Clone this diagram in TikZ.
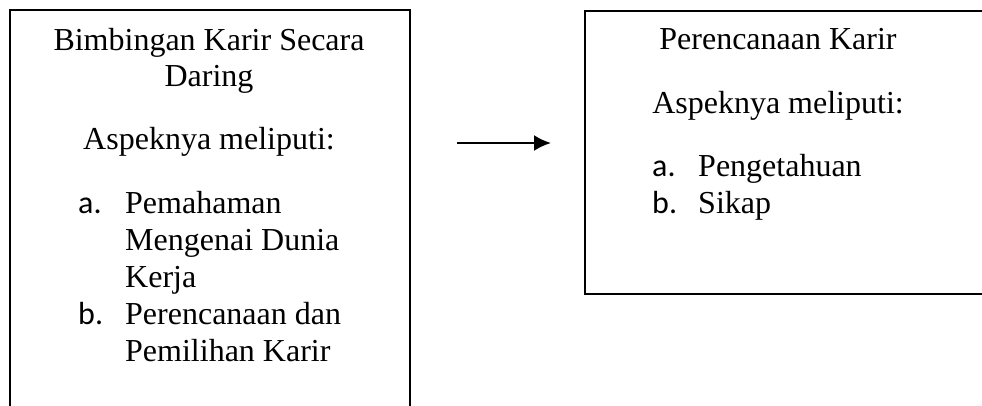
\documentclass[tikz,border=0pt]{standalone}
\usepackage{fontspec}
\setmainfont{Liberation Serif}
\newfontfamily\hurufdaftar{Carlito}
\usetikzlibrary{arrows.meta}

\begin{document}
\begin{tikzpicture}[x=1pt,y=-1pt]
\tikzset{kotak/.style = {shape=rectangle,draw,line width=2pt,anchor=north west,inner sep=0pt}}
\tikzset{baris/.style = {inner sep=0pt,font=\fontsize{32}{37}\selectfont}}
\tikzset{huruf/.style = {inner sep=0pt,anchor=base west,font=\hurufdaftar\fontsize{32}{37}\selectfont}}
\tikzset{edge/.style = {-{Latex[length=17pt,width=16pt]},line width=2.2pt}}
\useasboundingbox (0,0) rectangle (982,405);
\clip (0,0) rectangle (982,405);
% kotak kiri
\node[kotak,minimum width=400pt,minimum height=420pt](bimbingan) at (9,9) {};
\node[baris,anchor=base](b1) at (209,50) {Bimbingan Karir Secara};
\node[baris,anchor=base](b2) at (209,86) {Daring};
\node[baris,anchor=base](b3) at (209,149) {Aspeknya meliputi:};
\node[huruf](ba) at (78,213) {a.};
\node[baris,anchor=base west](ba1) at (125,213) {Pemahaman};
\node[baris,anchor=base west](ba2) at (125,250) {Mengenai Dunia};
\node[baris,anchor=base west](ba3) at (125,287) {Kerja};
\node[huruf](bb) at (78,324) {b.};
\node[baris,anchor=base west](bb1) at (125,324) {Perencanaan dan};
\node[baris,anchor=base west](bb2) at (125,361) {Pemilihan Karir};
% kotak kanan
\node[kotak,minimum width=410pt,minimum height=283pt](perencanaan) at (584,10) {};
\node[baris,anchor=base](p1) at (778,49) {Perencanaan Karir};
\node[baris,anchor=base](p2) at (778,113) {Aspeknya meliputi:};
\node[huruf](pa) at (652,176) {a.};
\node[baris,anchor=base west](pa1) at (698,176) {Pengetahuan};
\node[huruf](pb) at (652,213) {b.};
\node[baris,anchor=base west](pb1) at (698,213) {Sikap};
% panah
\coordinate (panahA) at (457,143);
\coordinate (panahB) at (551,143);
\draw[edge] (panahA) -- (panahB);
\end{tikzpicture}
\end{document}
